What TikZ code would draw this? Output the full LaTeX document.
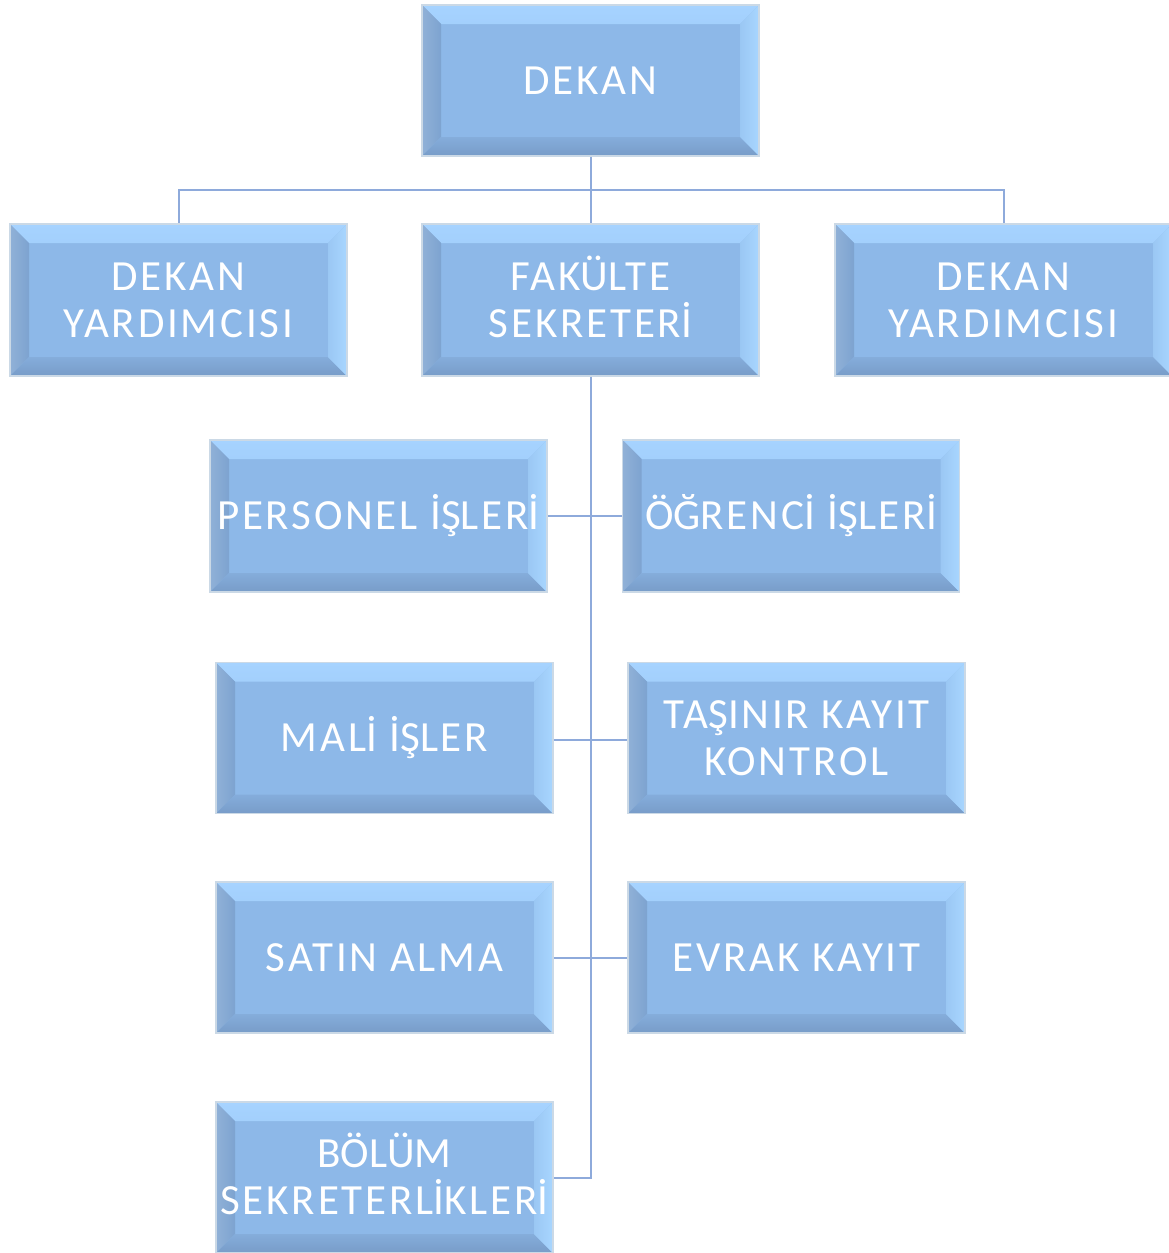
\documentclass[tikz,border=0pt]{standalone}
\usepackage{fontspec}
\setmainfont[LetterSpace=6.5]{Carlito}
\definecolor{boxfill}{HTML}{8DB8E8}
\definecolor{bvtop}{HTML}{A6D3FF}
\definecolor{bvleft}{HTML}{7DA3D0}
\definecolor{bvbottom}{HTML}{789CC8}
\definecolor{bvright}{HTML}{A8D6FF}
\definecolor{boxline}{HTML}{CBD9E6}
\definecolor{conn}{HTML}{8EAADB}
\newcommand{\sm}[1]{\smash{#1}}
\tikzset{
  orgbox/.style={rectangle, minimum width=337pt, minimum height=151pt, inner sep=0pt,
    fill=boxfill, draw=boxline, line width=1.5pt, text=white, align=center,
    font=\fontsize{43}{47}\selectfont,
    path picture={
      \def\bv{19pt}
      \shade[top color=bvtop, bottom color=boxfill] (path picture bounding box.north west) -- (path picture bounding box.north east)
        -- ([shift={(-\bv,-\bv)}]path picture bounding box.north east) -- ([shift={(\bv,-\bv)}]path picture bounding box.north west) -- cycle;
      \shade[left color=bvleft!85!white, right color=bvleft] (path picture bounding box.north west) -- (path picture bounding box.south west)
        -- ([shift={(\bv,\bv)}]path picture bounding box.south west) -- ([shift={(\bv,-\bv)}]path picture bounding box.north west) -- cycle;
      \shade[top color=boxfill!60!bvbottom, bottom color=bvbottom] (path picture bounding box.south west) -- (path picture bounding box.south east)
        -- ([shift={(-\bv,\bv)}]path picture bounding box.south east) -- ([shift={(\bv,\bv)}]path picture bounding box.south west) -- cycle;
      \shade[left color=boxfill!50!bvright, right color=bvright] (path picture bounding box.north east) -- (path picture bounding box.south east)
        -- ([shift={(-\bv,\bv)}]path picture bounding box.south east) -- ([shift={(-\bv,-\bv)}]path picture bounding box.north east) -- cycle;
    }},
  link/.style={draw=conn, line width=2pt}
}
\begin{document}
\begin{tikzpicture}[x=1pt,y=-1pt]
\useasboundingbox (0,0) rectangle (1168,1253);
\node[orgbox] (dekan) at (590.5,80.5) {DEKAN};
\node[orgbox, minimum height=152pt] (dy1) at (178.5,300) {DEKAN\\YARDIMCISI};
\node[orgbox, minimum height=152pt] (fak) at (590.5,300) {FAK\sm{Ü}LTE\\SEKRETER\sm{İ}};
\node[orgbox, minimum height=152pt] (dy2) at (1003.5,300) {DEKAN\\YARDIMCISI};
\node[orgbox, minimum height=152pt] (pers) at (378.5,516) {PERSONEL \sm{İ}\sm{Ş}LER\sm{İ}};
\node[orgbox, minimum height=152pt] (ogr) at (791,516) {\sm{Ö}\sm{Ğ}RENC\sm{İ} \sm{İ}\sm{Ş}LER\sm{İ}};
\node[orgbox] (mali) at (384.5,738) {MAL\sm{İ} \sm{İ}\sm{Ş}LER};
\node[orgbox] (tas) at (796.5,738) {TA\sm{Ş}INIR KAYIT\\KONTROL};
\node[orgbox] (satin) at (384.5,957.5) {SATIN ALMA};
\node[orgbox] (evrak) at (796.5,957.5) {EVRAK KAYIT};
\node[orgbox] (bolum) at (384.5,1177.5) {B\sm{Ö}L\sm{Ü}M\\SEKRETERL\sm{İ}KLER\sm{İ}};
\coordinate (hub) at (590.5,190);
\coordinate (r1) at (590.5,516);
\coordinate (r2) at (590.5,740);
\coordinate (r3) at (590.5,958);
\coordinate (r4) at (590.5,1178);
\draw[link] (dekan.south) -- (fak.north);
\draw[link] (hub) -| (dy1.north);
\draw[link] (hub) -| (dy2.north);
\draw[link] (fak.south) -- (r4) -- (bolum.east |- r4);
\draw[link] (pers.east |- r1) -- (ogr.west |- r1);
\draw[link] (mali.east |- r2) -- (tas.west |- r2);
\draw[link] (satin.east |- r3) -- (evrak.west |- r3);
\end{tikzpicture}
\end{document}
